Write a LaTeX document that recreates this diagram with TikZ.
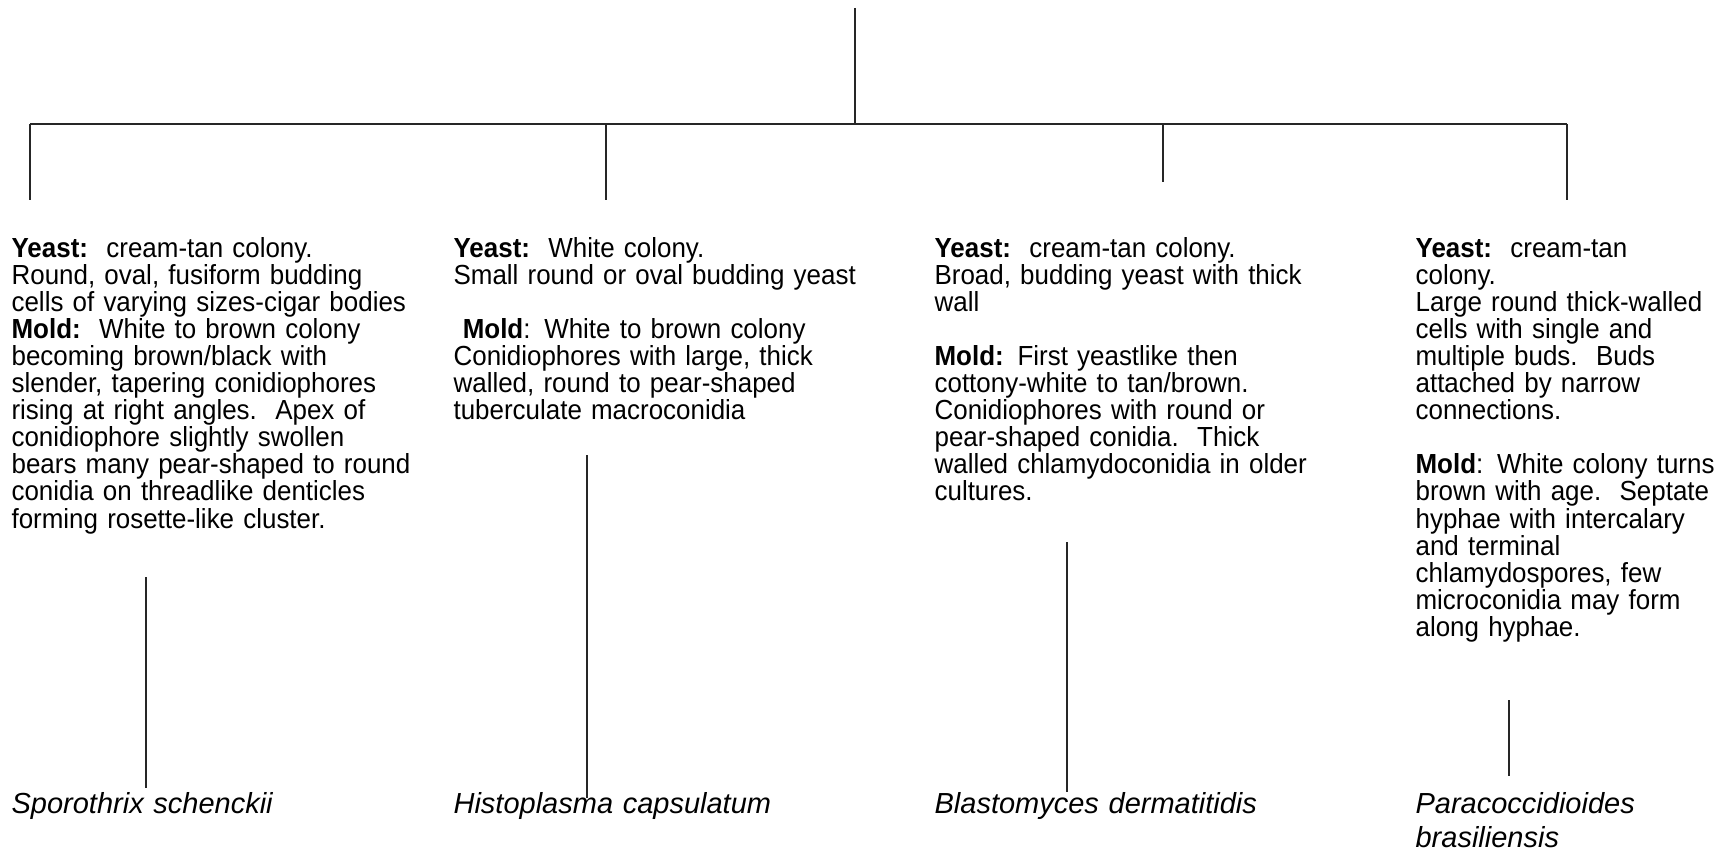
\documentclass[tikz,border=0pt]{standalone}
\usepackage{fontspec}
\setmainfont{Liberation Sans}
\newfontfamily\bodyfont[FakeStretch=0.94]{Liberation Sans}
\begin{document}
\begin{tikzpicture}[x=0.5pt,y=-0.5pt,line width=0.6pt,
  body/.style={anchor=base west,inner sep=0pt,text width=240pt,align=left,
    font=\bodyfont\fontsize{13.8}{13.55}\selectfont},
  spname/.style={anchor=base west,inner sep=0pt,text width=200pt,align=left,
    font=\fontsize{14.5}{17}\selectfont\itshape},
  conn/.style={draw=black!85}]
\useasboundingbox (0,0) rectangle (1717,850);
% tree top
\coordinate (root) at (855,8);
\coordinate (bus) at (855,124);
\coordinate (busL) at (30,124);
\coordinate (busR) at (1567,124);
\coordinate (b1) at (30,124);   \coordinate (d1) at (30,200);
\coordinate (b2) at (606,124);  \coordinate (d2) at (606,200);
\coordinate (b3) at (1163,124); \coordinate (d3) at (1163,182);
\coordinate (b4) at (1567,124); \coordinate (d4) at (1567,200);
\draw[conn] (root) -- (bus);
\draw[conn] (busL) -- (busR);
\draw[conn] (b1) -- (d1);
\draw[conn] (b2) -- (d2);
\draw[conn] (b3) -- (d3);
\draw[conn] (b4) -- (d4);
% descriptions
\node[body] (t1) at (11,257) {\textbf{Yeast:}\ \ cream-tan colony.\\
Round, oval, fusiform budding\\
cells of varying sizes-cigar bodies\\
\textbf{Mold:}\ \ White to brown colony\\
becoming brown/black with\\
slender, tapering conidiophores\\
rising at right angles.\ \ Apex of\\
conidiophore slightly swollen\\
bears many pear-shaped to round\\
conidia on threadlike denticles\\
forming rosette-like cluster.};
\node[body] (t2) at (453,257) {\textbf{Yeast:}\ \ White colony.\\
Small round or oval budding yeast\\[13.55pt]
\ \textbf{Mold}: White to brown colony\\
Conidiophores with large, thick\\
walled, round to pear-shaped\\
tuberculate macroconidia};
\node[body] (t3) at (934,257) {\textbf{Yeast:}\ \ cream-tan colony.\\
Broad, budding yeast with thick\\
wall\\[13.55pt]
\textbf{Mold:} First yeastlike then\\
cottony-white to tan/brown.\\
Conidiophores with round or\\
pear-shaped conidia.\ \ Thick\\
walled chlamydoconidia in older\\
cultures.};
\node[body] (t4) at (1415,257) {\textbf{Yeast:}\ \ cream-tan\\
colony.\\
Large round thick-walled\\
cells with single and\\
multiple buds.\ \ Buds\\
attached by narrow\\
connections.\\[13.55pt]
\textbf{Mold}: White colony turns\\
brown with age.\ \ Septate\\
hyphae with intercalary\\
and terminal\\
chlamydospores, few\\
microconidia may form\\
along hyphae.};
% species names
\node[spname] (n1) at (11,813) {Sporothrix schenckii};
\node[spname] (n2) at (453,813) {Histoplasma capsulatum};
\node[spname] (n3) at (934,813) {Blastomyces dermatitidis};
\node[spname] (n4) at (1415,813) {Paracoccidioides\\brasiliensis};
% connectors from descriptions to names
\coordinate (u1) at (146,577); \coordinate (v1) at (146,788);
\coordinate (u2) at (587,455); \coordinate (v2) at (587,798);
\coordinate (u3) at (1067,542); \coordinate (v3) at (1067,792);
\coordinate (u4) at (1509,700); \coordinate (v4) at (1509,776);
\draw[conn] (u1) -- (v1);
\draw[conn] (u2) -- (v2);
\draw[conn] (u3) -- (v3);
\draw[conn] (u4) -- (v4);
\end{tikzpicture}
\end{document}
